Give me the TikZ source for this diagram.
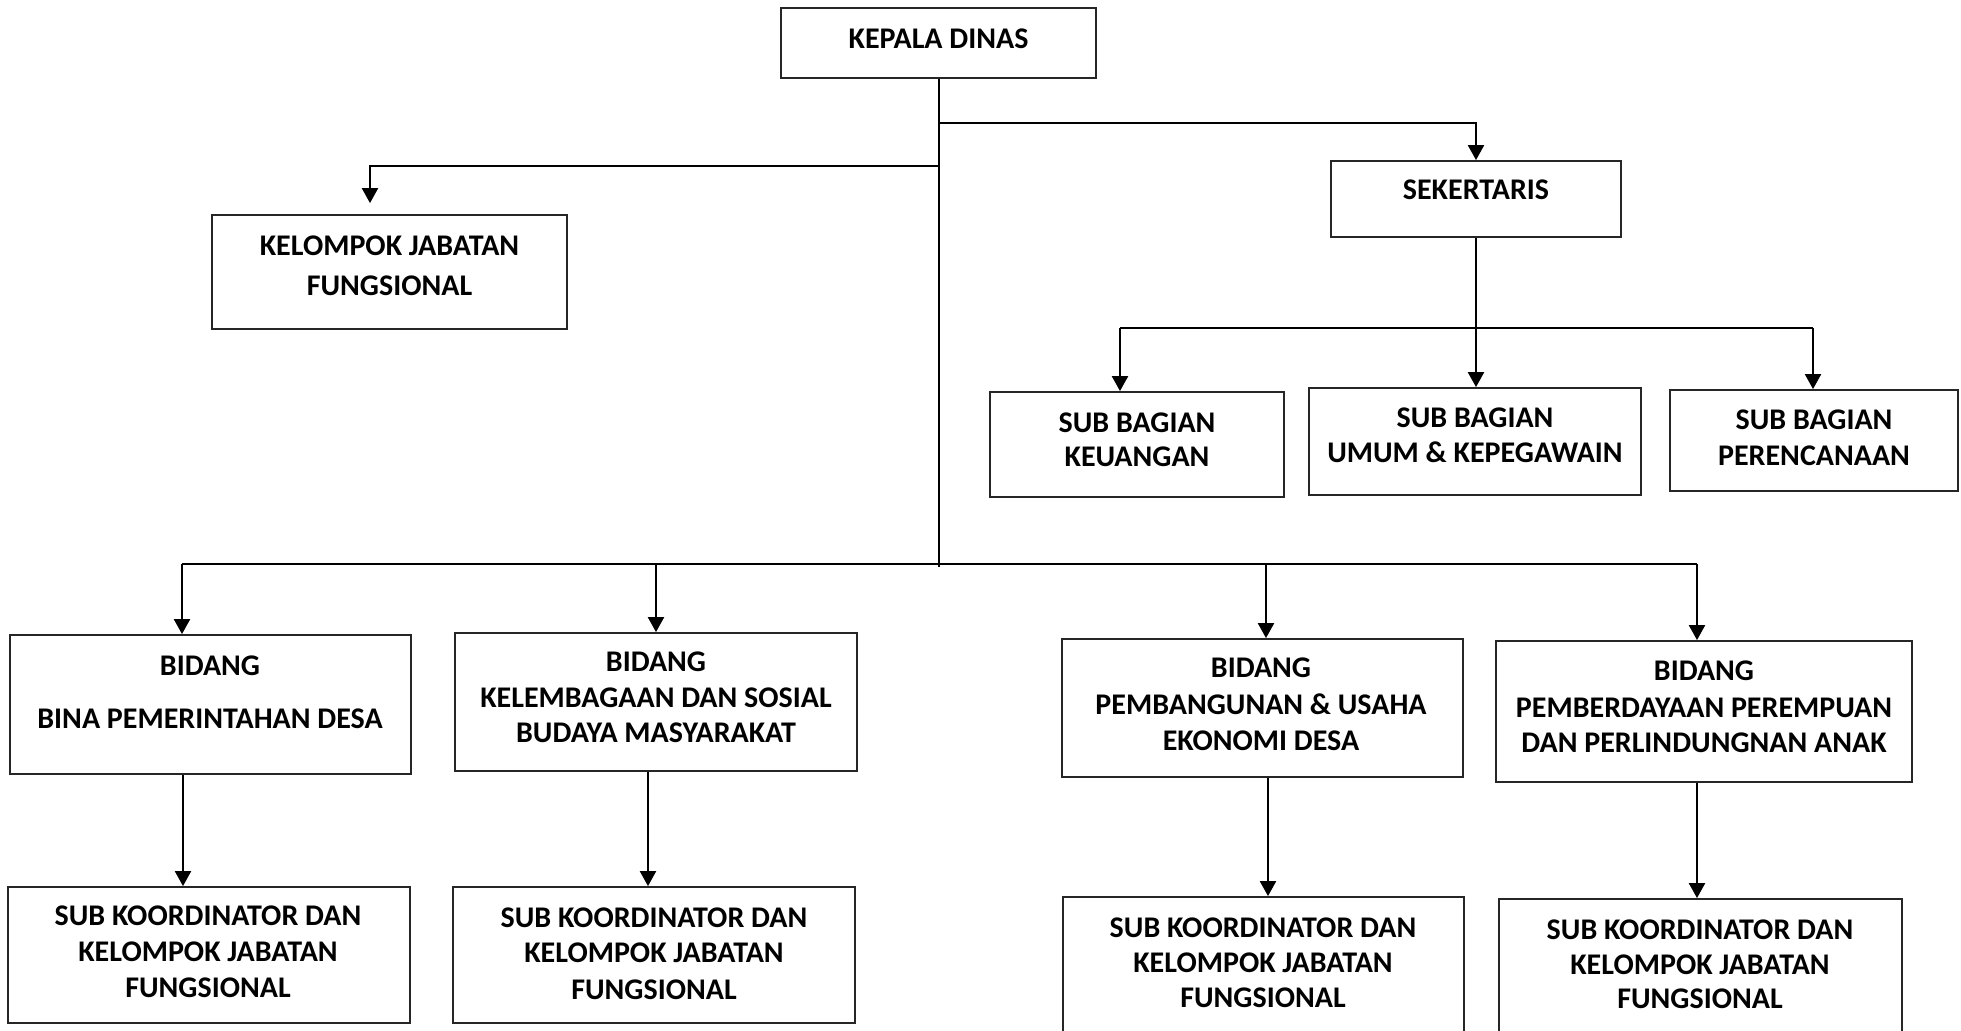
\documentclass[tikz,border=0pt]{standalone}
\usepackage{fontspec}
\setmainfont{Carlito}
\usetikzlibrary{arrows.meta}
\newcommand\obox[5]{\node[orgbox, minimum width={(#4-#2)*0.5pt}, minimum height={(#5-#3)*0.5pt}] (#1) at ({(#2+#4)/2},{(#3+#5)/2}) {};}
\newcommand\otext[4]{\node[lbl, anchor=base] (#1) at (#2,{#3+9.5}) {#4};}
\begin{document}
\begin{tikzpicture}[x=0.5pt,y=-0.5pt,
  orgbox/.style={draw=black!85, line width=0.9pt, inner sep=0pt, fill=none},
  lbl/.style={inner sep=0pt, font=\fontsize{15pt}{18pt}\selectfont\bfseries},
  conn/.style={line width=1pt},
  arr/.style={line width=1.1pt, -{Triangle[length=7.5pt,width=8pt]}}]
\useasboundingbox (0,0) rectangle (1961,1031);
\fill[white] (0,0) rectangle (1961,1031);
% boxes
\obox{kd}{781}{8}{1096}{78}
\obox{kj}{212}{215}{567}{329}
\obox{sek}{1331}{161}{1621}{237}
\obox{keu}{990}{392}{1284}{497}
\obox{umum}{1309}{388}{1641}{495}
\obox{ren}{1670}{390}{1958}{491}
\obox{b1}{10}{635}{411}{774}
\obox{b2}{455}{633}{857}{771}
\obox{b3}{1062}{639}{1463}{777}
\obox{b4}{1496}{641}{1912}{782}
\obox{s1}{8}{887}{410}{1023}
\obox{s2}{453}{887}{855}{1023}
\obox{s3}{1063}{897}{1464}{1050}
\obox{s4}{1499}{899}{1902}{1050}
% texts
\otext{kd1}{938.5}{39}{KEPALA DINAS}
\otext{kj1}{389.5}{246}{KELOMPOK JABATAN}
\otext{kj2}{389.5}{286}{FUNGSIONAL}
\otext{sek1}{1476}{190}{SEKERTARIS}
\otext{keu1}{1137}{423}{SUB BAGIAN}
\otext{keu2}{1137}{457}{KEUANGAN}
\otext{umum1}{1475}{418}{SUB BAGIAN}
\otext{umum2}{1475}{453}{UMUM \& KEPEGAWAIN}
\otext{ren1}{1814}{420}{SUB BAGIAN}
\otext{ren2}{1814}{456}{PERENCANAAN}
\otext{b1a}{210}{666}{BIDANG}
\otext{b1b}{210}{719}{BINA PEMERINTAHAN DESA}
\otext{b2a}{656}{662}{BIDANG}
\otext{b2b}{656}{698}{KELEMBAGAAN DAN SOSIAL}
\otext{b2c}{656}{733}{BUDAYA MASYARAKAT}
\otext{b3a}{1261}{668}{BIDANG}
\otext{b3b}{1261}{705}{PEMBANGUNAN \& USAHA}
\otext{b3c}{1261}{741}{EKONOMI DESA}
\otext{b4a}{1704}{671}{BIDANG}
\otext{b4b}{1704}{708}{PEMBERDAYAAN PEREMPUAN}
\otext{b4c}{1704}{743}{DAN PERLINDUNGNAN ANAK}
\otext{s1a}{208}{916}{SUB KOORDINATOR DAN}
\otext{s1b}{208}{952}{KELOMPOK JABATAN}
\otext{s1c}{208}{988}{FUNGSIONAL}
\otext{s2a}{654}{918}{SUB KOORDINATOR DAN}
\otext{s2b}{654}{953}{KELOMPOK JABATAN}
\otext{s2c}{654}{990}{FUNGSIONAL}
\otext{s3a}{1263}{928}{SUB KOORDINATOR DAN}
\otext{s3b}{1263}{963}{KELOMPOK JABATAN}
\otext{s3c}{1263}{998}{FUNGSIONAL}
\otext{s4a}{1700}{930}{SUB KOORDINATOR DAN}
\otext{s4b}{1700}{965}{KELOMPOK JABATAN}
\otext{s4c}{1700}{999}{FUNGSIONAL}
% connectors
\coordinate (tb) at (938.5,567);
\coordinate (jS) at (938.5,123);
\coordinate (jK) at (938.5,166);
\coordinate (hL) at (1120,328);
\coordinate (hR) at (1813,328);
\coordinate (bL) at (182,564);
\coordinate (bM) at (656,564);
\coordinate (bN) at (1266,564);
\coordinate (bR) at (1697,564);
\draw[conn] (kd.south) -- (tb);
\draw[arr] (jS) -| (sek.north);
\draw[arr] (jK) -| ([xshift=-9.75pt,yshift=5.5pt]kj.north);
\draw[arr] (sek.south) -- (sek.south |- umum.north);
\draw[conn] (hL) -- (hR);
\draw[arr] (hL) -- (hL |- keu.north);
\draw[arr] (hR) -- (hR |- ren.north);
\draw[conn] (bL) -- (bR);
\draw[arr] (bL) -- (bL |- b1.north);
\draw[arr] (bM) -- (bM |- b2.north);
\draw[arr] (bN) -- (bN |- b3.north);
\draw[arr] (bR) -- (bR |- b4.north);
\draw[arr] ([xshift=-13.75pt]b1.south) -- ([xshift=-13.75pt]b1.south |- s1.north);
\draw[arr] ([xshift=-4pt]b2.south) -- ([xshift=-4pt]b2.south |- s2.north);
\draw[arr] ([xshift=2.75pt]b3.south) -- ([xshift=2.75pt]b3.south |- s3.north);
\draw[arr] ([xshift=-3.5pt]b4.south) -- ([xshift=-3.5pt]b4.south |- s4.north);
\end{tikzpicture}
\end{document}
